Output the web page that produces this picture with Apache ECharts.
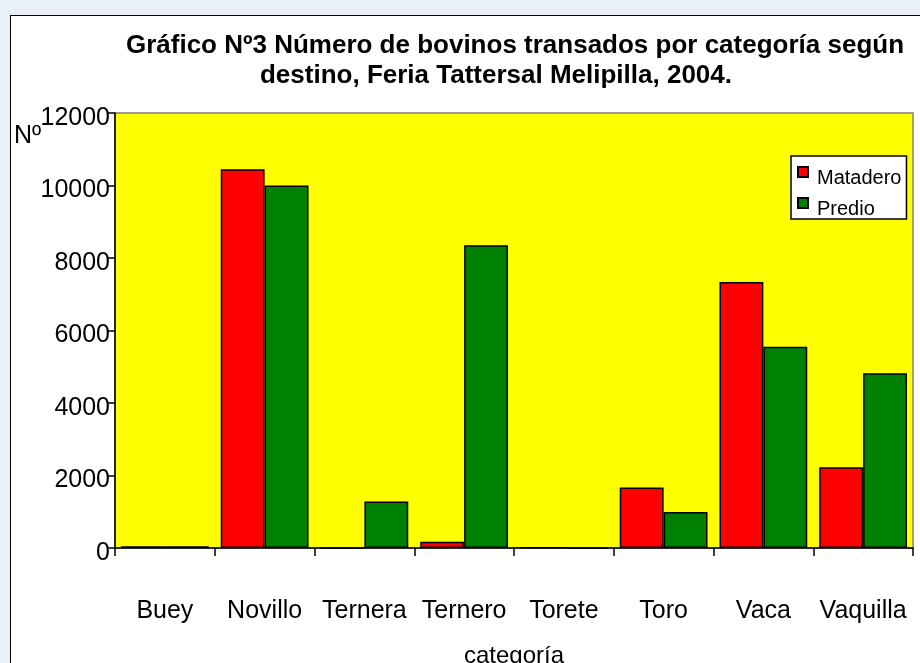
<!DOCTYPE html>
<html>
<head>
<meta charset="utf-8">
<script src="https://cdn.jsdelivr.net/npm/echarts@6/dist/echarts.min.js"></script>
<style>
html,body{margin:0;padding:0;width:920px;height:663px;overflow:hidden;background:#eaf0f7;}
#frame{position:absolute;left:10px;top:15px;width:930px;height:670px;background:#ffffff;border:1.5px solid #000;}
#chart{position:absolute;left:0;top:0;width:920px;height:663px;}
</style>
</head>
<body>
<div id="frame"></div>
<div id="chart"></div>
<script>
const categories = ['Buey','Novillo','Ternera','Ternero','Torete','Toro','Vaca','Vaquilla'];
const matadero = [50, 10450, 0, 170, 10, 1670, 7340, 2230];
const predio = [50, 10000, 1280, 8350, 0, 990, 5550, 4820];
const seriesNames = ['Matadero','Predio'];
const yMin = 0, yMax = 12000, yStep = 2000;
const titleLine1 = 'Gráfico Nº3 Número de bovinos transados por categoría según';
const titleLine2 = 'destino, Feria Tattersal Melipilla, 2004.';
const yName = 'Nº';
const xName = 'categoría';

const FONT = '"Liberation Sans", Arial, sans-serif';
const chart = echarts.init(document.getElementById('chart'), null, {renderer:'canvas'});
chart.setOption({
  backgroundColor: 'transparent',
  animation: false,
  textStyle: {fontFamily: FONT, color:'#000'},
  graphic: [
    {type:'text', x:515, y:46, style:{text:titleLine1, fontFamily:FONT, fontSize:26, fontWeight:'bold', fill:'#000', align:'center', verticalAlign:'middle'}},
    {type:'text', x:496, y:76, style:{text:titleLine2, fontFamily:FONT, fontSize:26, fontWeight:'bold', fill:'#000', align:'center', verticalAlign:'middle'}},
    {type:'text', x:14, y:136, style:{text:yName, fontFamily:FONT, fontSize:25, fill:'#000', align:'left', verticalAlign:'middle'}}
  ],
  legend: {
    orient:'vertical', left:791, top:156,
    backgroundColor:'#fff', borderColor:'#000', borderWidth:1.5,
    padding:[10,5,0,6], itemGap:9, itemWidth:10, itemHeight:10, icon:'rect',
    formatter: function(n){ return '{t|' + n + '}'; },
    textStyle:{fontFamily:FONT, fontSize:20, color:'#000',
      rich:{t:{fontFamily:FONT, fontSize:20, color:'#000', padding:[12,0,0,4]}}},
    data: seriesNames
  },
  grid: {left:115, right:7, top:113, bottom:115, outerBoundsMode:'none', containLabel:false,
    show:true, backgroundColor:'#ffff00', borderColor:'#808080', borderWidth:1.5},
  xAxis: {
    type:'category', data:categories,
    name:xName, nameLocation:'middle', nameGap:96,
    nameTextStyle:{fontFamily:FONT, fontSize:24, color:'#000'},
    axisLine:{lineStyle:{color:'#000', width:1.5}},
    axisTick:{show:true, length:8, lineStyle:{color:'#000', width:1.5}},
    axisLabel:{fontFamily:FONT, fontSize:25, color:'#000', margin:51, interval:0},
    splitLine:{show:false}
  },
  yAxis: {
    type:'value', min:yMin, max:yMax, interval:yStep,
    axisLine:{show:true, lineStyle:{color:'#000', width:1.5}},
    axisTick:{show:true, length:7, lineStyle:{color:'#000', width:1.5}},
    axisLabel:{fontFamily:FONT, fontSize:25, color:'#000', margin:5,
      formatter: function(v){ return '{v|' + v + '}'; },
      rich:{v:{fontFamily:FONT, fontSize:25, color:'#000', padding:[10,0,0,0]}}},
    splitLine:{show:false}
  },
  series: [
    {name:seriesNames[0], type:'bar', data:matadero, barGap:'0%', barCategoryGap:'12%',
     itemStyle:{color:'#ff0000', borderColor:'#000', borderWidth:1.5}},
    {name:seriesNames[1], type:'bar', data:predio, barGap:'0%', barCategoryGap:'12%',
     itemStyle:{color:'#008000', borderColor:'#000', borderWidth:1.5}}
  ]
});
</script>
</body>
</html>
